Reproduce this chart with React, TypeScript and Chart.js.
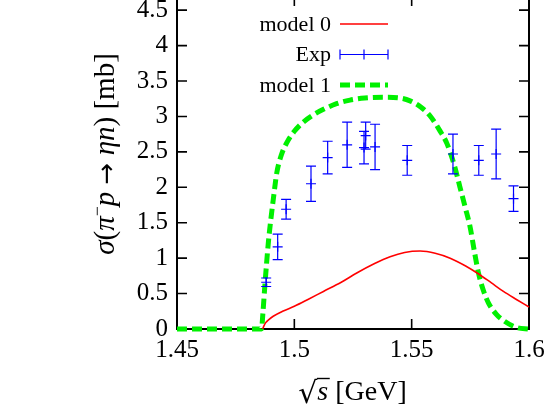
import React, { useEffect, useRef } from 'react';
import { Chart, registerables } from 'chart.js';

Chart.register(...registerables);

// ---------- data ----------
const xTicks = [1.45, 1.5, 1.55, 1.6];
const yTicks = [0, 0.5, 1, 1.5, 2, 2.5, 3, 3.5, 4, 4.5];

const model0X = [1.4865, 1.487, 1.4878, 1.489, 1.491, 1.495, 1.5, 1.506, 1.5124, 1.52, 1.5266, 1.534, 1.5408, 1.547, 1.5536, 1.56, 1.5664, 1.573, 1.5784, 1.584, 1.5891, 1.595, 1.6];
const model0Y = [0, 0.04, 0.09, 0.13, 0.18, 0.25, 0.32, 0.42, 0.53, 0.66, 0.79, 0.92, 1.02, 1.08, 1.1, 1.07, 1.0, 0.89, 0.78, 0.65, 0.53, 0.41, 0.31];

const model1X = [1.45, 1.486, 1.4866, 1.4875, 1.4889, 1.49, 1.491, 1.4925, 1.4945, 1.4968, 1.5, 1.5038, 1.508, 1.5124, 1.518, 1.5237, 1.53, 1.5379, 1.545, 1.5493, 1.554, 1.5578, 1.562, 1.565, 1.568, 1.5706, 1.5728, 1.5749, 1.5767, 1.5784, 1.5805, 1.5827, 1.586, 1.5891, 1.5948, 1.6];
const model1Y = [0, 0, 0.22, 0.64, 1.21, 1.55, 1.82, 2.2, 2.46, 2.63, 2.79, 2.92, 3.02, 3.1, 3.18, 3.23, 3.26, 3.27, 3.26, 3.22, 3.13, 3.01, 2.8, 2.62, 2.33, 2.0, 1.72, 1.44, 1.1, 0.8, 0.55, 0.37, 0.21, 0.12, 0.02, 0];

const expX = [1.488, 1.4929, 1.4965, 1.5071, 1.5142, 1.5225, 1.5297, 1.5304, 1.5344, 1.5481, 1.5676, 1.5786, 1.586, 1.5934];
const expY = [0.66, 1.16, 1.69, 2.05, 2.42, 2.6, 2.56, 2.73, 2.57, 2.38, 2.47, 2.38, 2.47, 1.84];
const expErr = [0.06, 0.18, 0.14, 0.25, 0.23, 0.32, 0.23, 0.19, 0.32, 0.21, 0.28, 0.21, 0.35, 0.18];

const seriesNames = ['model 0', 'Exp', 'model 1'];

// ---------- style ----------
const OFFSET = 40; // canvas is shifted up so the top frame is outside the window
const SERIF = '"Liberation Serif", "DejaVu Serif", serif';
const RED = '#ff0000';
const BLUE = '#0000ff';
const GREEN = '#00f000';
const TL = 10;

type Piece = { t: string; it?: boolean; size?: number; dy?: number; font?: string };

function drawRich(ctx: CanvasRenderingContext2D, pieces: Piece[], x: number, y: number, base: number) {
  const fonts = pieces.map(p => `${p.it ? 'italic ' : ''}${p.size ?? base}px ${p.font ?? SERIF}`);
  const widths = pieces.map((p, i) => { ctx.font = fonts[i]; return ctx.measureText(p.t).width; });
  const total = widths.reduce((a, b) => a + b, 0);
  let cx = x - total / 2;
  const pos: number[] = [];
  pieces.forEach((p, i) => {
    ctx.font = fonts[i];
    pos.push(cx);
    ctx.fillText(p.t, cx, y + (p.dy ?? 0));
    cx += widths[i];
  });
  return { pos, widths, total };
}

const decorPlugin = {
  id: 'decor',
  beforeDatasetsDraw(chart: any) {
    const { ctx, chartArea: a, scales } = chart;
    ctx.save();
    ctx.strokeStyle = '#000';
    ctx.lineWidth = 2;
    ctx.strokeRect(a.left, a.top, a.right - a.left, a.bottom - a.top);
    ctx.lineWidth = 1.6;
    ctx.beginPath();
    for (const v of xTicks) {
      const px = scales.x.getPixelForValue(v);
      ctx.moveTo(px, a.bottom); ctx.lineTo(px, a.bottom - TL);
      ctx.moveTo(px, a.top); ctx.lineTo(px, a.top + TL);
    }
    for (const v of yTicks) {
      const py = scales.y.getPixelForValue(v);
      ctx.moveTo(a.left, py); ctx.lineTo(a.left + TL, py);
      ctx.moveTo(a.right, py); ctx.lineTo(a.right - TL, py);
    }
    ctx.stroke();
    ctx.restore();
  },
  beforeDatasetDraw(chart: any, args: any) {
    if (args.index !== 1) return;
    const { ctx, scales } = chart;
    ctx.save();
    ctx.strokeStyle = BLUE;
    ctx.lineWidth = 1.2;
    ctx.beginPath();
    expX.forEach((xv, i) => {
      const px = scales.x.getPixelForValue(xv);
      const top = scales.y.getPixelForValue(expY[i] + expErr[i]);
      const bot = scales.y.getPixelForValue(expY[i] - expErr[i]);
      ctx.moveTo(px, top); ctx.lineTo(px, bot);
      ctx.moveTo(px - 5, top); ctx.lineTo(px + 5, top);
      ctx.moveTo(px - 5, bot); ctx.lineTo(px + 5, bot);
    });
    ctx.stroke();
    ctx.restore();
  },
  afterDraw(chart: any) {
    const { ctx } = chart;
    ctx.save();
    ctx.fillStyle = '#000';
    // legend
    const rows = [24, 54.5, 85].map(v => v + OFFSET);
    const textRight = 331;
    const s0 = 340, s1 = 388;
    ctx.font = `22px ${SERIF}`;
    ctx.textAlign = 'right';
    ctx.textBaseline = 'middle';
    seriesNames.forEach((n, i) => ctx.fillText(n, textRight, rows[i] + 1));
    ctx.lineWidth = 1.6;
    ctx.strokeStyle = RED;
    ctx.beginPath(); ctx.moveTo(s0, rows[0]); ctx.lineTo(s1, rows[0]); ctx.stroke();
    ctx.strokeStyle = BLUE;
    ctx.lineWidth = 1.2;
    ctx.beginPath();
    ctx.moveTo(s0, rows[1]); ctx.lineTo(s1, rows[1]);
    const mid = (s0 + s1) / 2;
    [s0, mid, s1].forEach(xx => { ctx.moveTo(xx, rows[1] - 5); ctx.lineTo(xx, rows[1] + 5); });
    ctx.stroke();
    ctx.strokeStyle = GREEN;
    ctx.lineWidth = 5;
    ctx.setLineDash([10, 5]);
    ctx.beginPath(); ctx.moveTo(s0, rows[2]); ctx.lineTo(s1, rows[2]); ctx.stroke();
    ctx.setLineDash([]);

    // x title
    ctx.textAlign = 'left';
    ctx.textBaseline = 'alphabetic';
    const xb = 400 + OFFSET;
    const r = drawRich(ctx, [
      { t: '\u221A', font: '"DejaVu Serif", serif', size: 30, dy: 3 },
      { t: 's', it: true },
      { t: ' [GeV]' },
    ], 352.5, xb, 28);
    ctx.strokeStyle = '#000';
    ctx.lineWidth = 1.4;
    ctx.beginPath();
    ctx.moveTo(r.pos[1] - 0.5, xb - 21.5);
    ctx.lineTo(r.pos[1] + r.widths[1] + 1.5, xb - 21.5);
    ctx.stroke();

    // y title
    ctx.translate(114, 154 + OFFSET);
    ctx.rotate(-Math.PI / 2);
    drawRich(ctx, [
      { t: '\u03C3', it: true },
      { t: '(' },
      { t: '\u03C0', it: true },
      { t: '\u2212', size: 18, dy: -11 },
      { t: 'p', it: true },
      { t: ' ' },
      { t: '\u2192', font: '"DejaVu Sans", sans-serif', size: 26, dy: 1 },
      { t: ' ' },
      { t: '\u03B7n', it: true },
      { t: ')' },
      { t: ' [mb]' },
    ], 0, 0, 29);
    ctx.restore();
  },
};

export default function App() {
  const ref = useRef<HTMLCanvasElement>(null);
  useEffect(() => {
    const chart = new Chart(ref.current as HTMLCanvasElement, {
      type: 'line',
      data: {
        datasets: [
          {
            label: seriesNames[0],
            data: model0X.map((x, i) => ({ x, y: model0Y[i] })),
            borderColor: RED,
            borderWidth: 1.6,
            pointRadius: 0,
            cubicInterpolationMode: 'monotone',
            fill: false,
            clip: false,
          },
          {
            label: seriesNames[1],
            data: expX.map((x, i) => ({ x, y: expY[i] })),
            showLine: false,
            pointStyle: 'cross',
            pointRadius: 5,
            borderColor: BLUE,
            backgroundColor: BLUE,
            borderWidth: 1.2,
          },
          {
            label: seriesNames[2],
            data: model1X.map((x, i) => ({ x, y: model1Y[i] })),
            borderColor: GREEN,
            borderWidth: 5,
            borderDash: [10, 5],
            pointRadius: 0,
            cubicInterpolationMode: 'monotone',
            fill: false,
            clip: false,
          },
        ] as any,
      },
      options: {
        animation: false,
        responsive: false,
        devicePixelRatio: 1,
        layout: { padding: { top: 36, right: 18, left: 0, bottom: 0 } },
        plugins: { legend: { display: false }, tooltip: { enabled: false } },
        scales: {
          x: {
            type: 'linear',
            min: 1.45,
            max: 1.6,
            grid: { display: false, drawTicks: false },
            border: { display: false },
            ticks: {
              color: '#000',
              font: { family: SERIF, size: 25 },
              padding: 6,
              maxRotation: 0,
              autoSkip: false,
              callback: (v: any) => String(v),
            },
            afterBuildTicks: (s: any) => { s.ticks = xTicks.map(v => ({ value: v })); },
            afterFit: (s: any) => { s.height = 80; s.paddingLeft = 0; s.paddingRight = 0; },
          },
          y: {
            type: 'linear',
            min: 0,
            max: 4.7,
            grid: { display: false, drawTicks: false },
            border: { display: false },
            ticks: {
              color: '#000',
              font: { family: SERIF, size: 25 },
              padding: 9,
              autoSkip: false,
              callback: (v: any) => String(v),
            },
            afterBuildTicks: (s: any) => { s.ticks = yTicks.map(v => ({ value: v })); },
            afterFit: (s: any) => { s.width = 177; s.paddingTop = 0; s.paddingBottom = 0; },
          },
        },
      } as any,
      plugins: [decorPlugin],
    });
    return () => chart.destroy();
  }, []);
  return (
    <div style={{ position: 'absolute', left: 0, top: -OFFSET, width: 547, height: 449 }}>
      <canvas ref={ref} width={547} height={449} style={{ display: 'block', width: 547, height: 449 }} />
    </div>
  );
}
